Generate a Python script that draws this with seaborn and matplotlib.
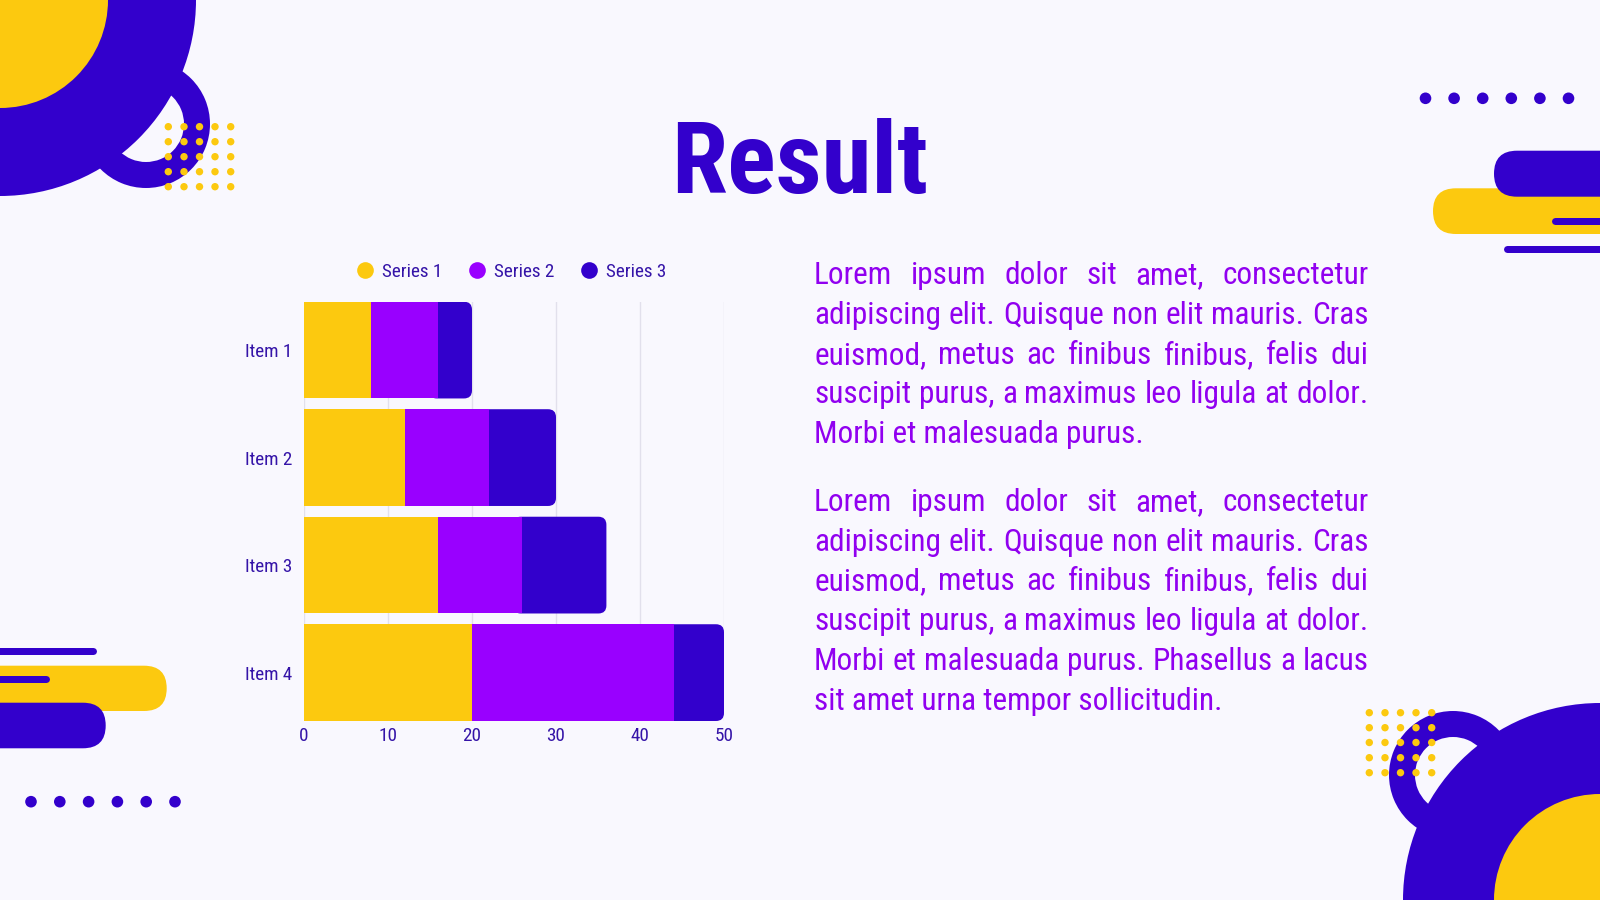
import numpy as np
import pandas as pd
import matplotlib
matplotlib.use("Agg")
import matplotlib.pyplot as plt
import seaborn as sns
from matplotlib import font_manager as fm
from matplotlib.patches import Circle, Wedge, FancyBboxPatch
from matplotlib.lines import Line2D
from matplotlib.textpath import TextPath
from matplotlib.font_manager import FontProperties

# ---------------- data ----------------
items = ["Item 1", "Item 2", "Item 3", "Item 4"]
series_names = ["Series 1", "Series 2", "Series 3"]
series1 = [8, 12, 16, 20]
series2 = [8, 10, 10, 24]
series3 = [4, 8, 10, 6]
x_ticks = [0, 10, 20, 30, 40, 50]
title_text = "Result"
paragraph1 = [
    "Lorem ipsum dolor sit amet, consectetur",
    "adipiscing elit. Quisque non elit mauris. Cras",
    "euismod, metus ac finibus finibus, felis dui",
    "suscipit purus, a maximus leo ligula at dolor.",
    "Morbi et malesuada purus.",
]
paragraph2 = [
    "Lorem ipsum dolor sit amet, consectetur",
    "adipiscing elit. Quisque non elit mauris. Cras",
    "euismod, metus ac finibus finibus, felis dui",
    "suscipit purus, a maximus leo ligula at dolor.",
    "Morbi et malesuada purus. Phasellus a lacus",
    "sit amet urna tempor sollicitudin.",
]

# ---------------- style ----------------
YELLOW = "#FCC90F"
PURPLE = "#9900FF"
NAVY = "#3300CC"
BG = "#F9F8FE"
TEXT_NAVY = "#3514A8"
BODY_PURPLE = "#9100F0"
GRID = "#E2E0EC"

avail = {f.name for f in fm.fontManager.ttflist}


def pick(*cands):
    for c in cands:
        if c in avail:
            return c
    return "DejaVu Sans"


BODY = pick("Roboto Condensed", "Liberation Sans Narrow", "Roboto", "Lato", "Noto Sans")
TITLE = pick("Roboto Condensed", "Liberation Sans Narrow", "DejaVu Sans Condensed", "Roboto", "DejaVu Sans")
plt.rcParams["font.family"] = [BODY, "DejaVu Sans"]

W, H = 1600, 900
fig = plt.figure(figsize=(16, 9), dpi=100, facecolor=BG)
bg = fig.add_axes([0, 0, 1, 1], zorder=0)
bg.set_xlim(0, W)
bg.set_ylim(H, 0)
bg.axis("off")
bg.set_facecolor(BG)


def circ(x, y, r, c, z=1):
    bg.add_patch(Circle((x, y), r, facecolor=c, edgecolor="none", zorder=z))


def ring(x, y, R, w, c, z=1):
    bg.add_patch(Wedge((x, y), R, 0, 360, width=w, facecolor=c, edgecolor="none", zorder=z))


def pill(x0, x1, y0, y1, c, z=1):
    h = y1 - y0
    bg.add_patch(FancyBboxPatch((x0, y0), x1 - x0, h,
                                boxstyle=f"round,pad=0,rounding_size={h / 2}",
                                facecolor=c, edgecolor="none", zorder=z))


def bar_line(x0, x1, y, lw_px, c, z=3):
    bg.plot([x0 + lw_px / 2, x1 - lw_px / 2], [y, y], color=c,
            lw=lw_px * 72 / 100, solid_capstyle="round", zorder=z)


# top-left decoration
circ(0, 0, 196, NAVY, 1)
ring(146, 124, 64, 26, NAVY, 1)
circ(0, 0, 108, YELLOW, 2)
for gx in [168.3, 184, 199.5, 215, 230.7]:
    for gy in [126.7, 141.7, 156.7, 171.7, 186.7]:
        circ(gx, gy, 3.7, YELLOW, 4)

# bottom-right decoration
circ(1600, 900, 197, NAVY, 1)
ring(1453, 775, 64, 26, NAVY, 1)
circ(1600, 900, 106, YELLOW, 2)
for gx in [1369.3, 1385, 1400.5, 1416, 1431.7]:
    for gy in [712.7, 727.7, 742.5, 757.7, 772.7]:
        circ(gx, gy, 3.7, YELLOW, 4)

# top-right decoration
for i in range(6):
    circ(1425.5 + 28.6 * i, 98.3, 5.8, NAVY, 2)
pill(1433, 1750, 188.3, 234, YELLOW, 1)
pill(1494, 1750, 150.7, 196.7, NAVY, 2)
bar_line(1551, 1620, 221, 7, NAVY, 3)
bar_line(1503, 1620, 249, 7, NAVY, 3)

# bottom-left decoration
for i in range(6):
    circ(31 + 28.8 * i, 801.7, 5.8, NAVY, 2)
bar_line(-20, 96.7, 651, 7, NAVY, 3)
pill(-150, 166.7, 665.7, 711, YELLOW, 1)
bar_line(-20, 49.3, 678.7, 7, NAVY, 3)
pill(-150, 105.7, 702.7, 748.3, NAVY, 2)

renderer = fig.canvas.get_renderer()

# ---------------- title ----------------
fp_title = FontProperties(family=TITLE, weight="bold")
tp = TextPath((0, 0), title_text, size=100, prop=fp_title)
ext = tp.get_extents()
cap_ratio = TextPath((0, 0), "H", size=100, prop=fp_title).get_extents().height / 100
width_ratio = ext.width / 100
size_h = 72 / cap_ratio * 0.72
size_w = 249 / width_ratio * 0.72
tsize = min(size_h, size_w * 1.1)
bg.text(800, 193, title_text, fontsize=tsize, fontfamily=[TITLE, "DejaVu Sans"],
        fontweight="bold", color=NAVY, ha="center", va="baseline", zorder=5)

# ---------------- body text (justified) ----------------
X0, X1 = 814, 1368.5


def text_w(s, size):
    t = bg.text(0, 0, s, fontsize=size)
    w = t.get_window_extent(renderer).width
    t.remove()
    return w


full_lines = paragraph1[:-1] + paragraph2[:-1]
maxw = max(text_w(l, 20) for l in full_lines)
bsize = 20 * (X1 - X0) * 0.995 / maxw


def draw_par(lines, y0, dy):
    for i, line in enumerate(lines):
        y = y0 + dy * i
        if i == len(lines) - 1:
            bg.text(X0, y, line, fontsize=bsize, color=BODY_PURPLE, ha="left", va="baseline", zorder=5)
            continue
        words = line.split(" ")
        ws = [text_w(w, bsize) for w in words]
        gap = (X1 - X0 - sum(ws)) / (len(words) - 1)
        x = X0
        for w, wd in zip(words, ws):
            bg.text(x, y, w, fontsize=bsize, color=BODY_PURPLE, ha="left", va="baseline", zorder=5)
            x += wd + gap


draw_par(paragraph1, 284.3, 39.7)
draw_par(paragraph2, 510.7, 39.85)

# ---------------- chart ----------------
ax_l, ax_r, ax_t, ax_b = 304, 724, 301.7, 721
ax = fig.add_axes([ax_l / W, 1 - ax_b / H, (ax_r - ax_l) / W, (ax_b - ax_t) / H], zorder=3)
ax.patch.set_alpha(0)

df = pd.DataFrame({"item": items, "s1": series1, "s2": series2, "s3": series3})
df["c2"] = df["s1"] + df["s2"]
df["c3"] = df["c2"] + df["s3"]

XMAX = 50
YLO, YHI = -0.45, 3.45
px_per_x = (ax_r - ax_l) / XMAX
px_per_y = (ax_b - ax_t) / (YHI - YLO)
r_px = 8
r_x = r_px / px_per_x

# series 3 (navy) with rounded right end
sns.barplot(data=df, x="c3", y="item", orient="h", color=NAVY, saturation=1,
            width=0.9, linewidth=0, errorbar=None, ax=ax)
for p, left in zip(list(ax.patches), df["c2"]):
    y, w, h = p.get_y(), p.get_width(), p.get_height()
    z = p.get_zorder()
    p.remove()
    start = left - 1.2 * r_x
    ax.add_patch(FancyBboxPatch((start, y), w - start, h,
                                boxstyle=f"round,pad=0,rounding_size={r_x}",
                                mutation_aspect=px_per_x / px_per_y,
                                facecolor=NAVY, edgecolor="none", zorder=z))
n_before = len(ax.patches)

# series 2 (purple), starting at end of series 1
sns.barplot(data=df, x="c2", y="item", orient="h", color=PURPLE, saturation=1,
            width=0.9, linewidth=0, errorbar=None, ax=ax)
for p, left, val in zip(list(ax.patches)[n_before:], df["s1"], df["s2"]):
    p.set_x(left)
    p.set_width(val)

# series 1 (yellow)
sns.barplot(data=df, x="s1", y="item", orient="h", color=YELLOW, saturation=1,
            width=0.9, linewidth=0, errorbar=None, ax=ax)

ax.set_xlim(0, XMAX)
ax.set_ylim(YHI, YLO)
ax.set_xticks(x_ticks)
ax.set_xticklabels([str(v) for v in x_ticks])
ax.set_xlabel("")
ax.set_ylabel("")
for s in ax.spines.values():
    s.set_visible(False)
ax.set_axisbelow(True)
ax.grid(axis="x", color=GRID, lw=1)
ax.grid(axis="y", visible=False)
ax.tick_params(axis="both", length=0, labelsize=13.8, labelcolor=TEXT_NAVY)
ax.tick_params(axis="y", pad=8.6)
ax.tick_params(axis="x", pad=4.3)

handles = [Line2D([], [], marker="o", linestyle="", markersize=12,
                  markerfacecolor=c, markeredgewidth=0)
           for c in [YELLOW, PURPLE, NAVY]]
leg = fig.legend(handles, series_names, loc="center", bbox_to_anchor=(511 / W, 1 - 271.7 / H),
                 ncol=3, frameon=False, fontsize=13.8, handlelength=1.0, handletextpad=0.4,
                 columnspacing=1.3, labelcolor=TEXT_NAVY)

fig.savefig("out.png", dpi=100, facecolor=BG)
